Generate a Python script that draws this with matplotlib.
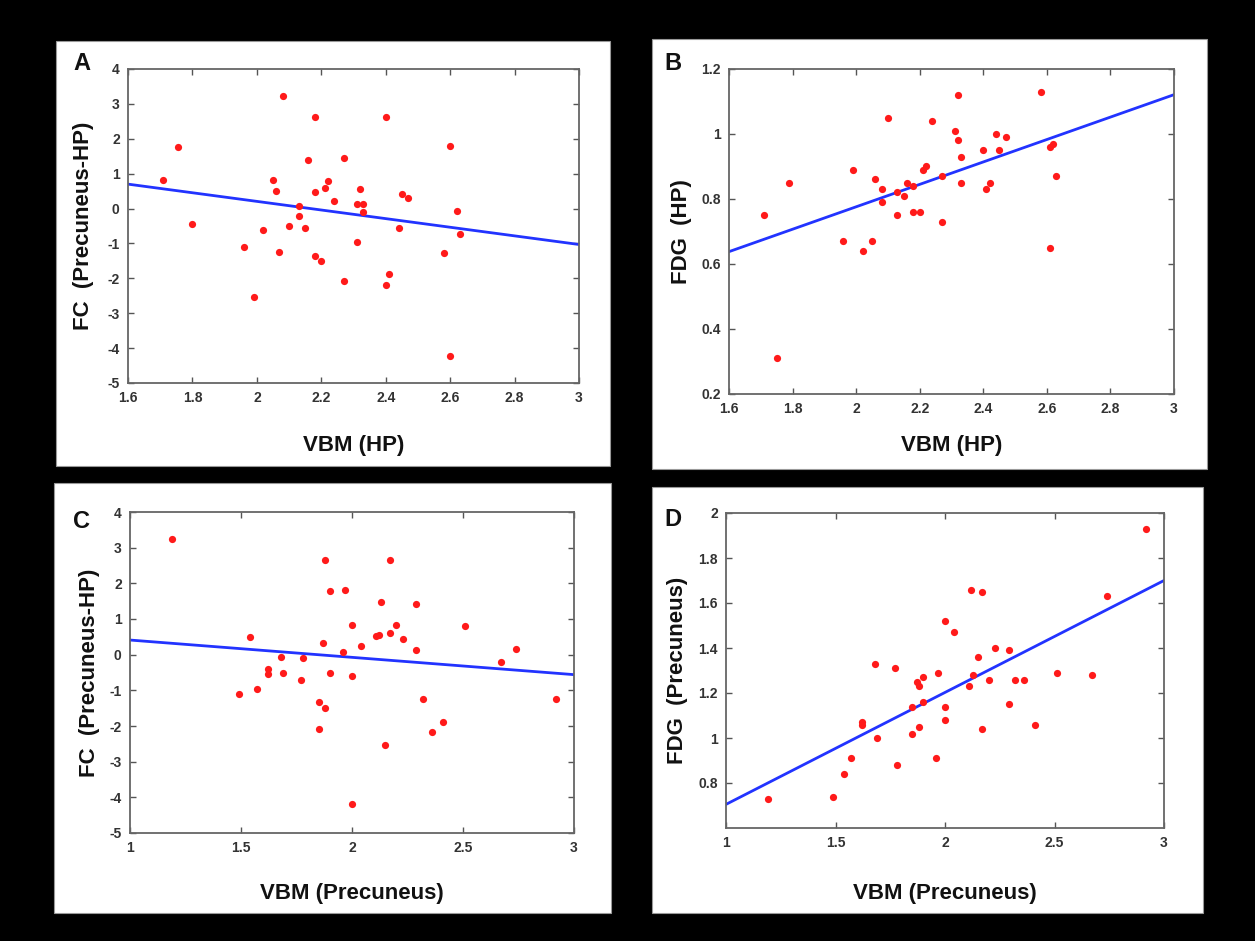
import numpy as np
import matplotlib
matplotlib.use('Agg')
import matplotlib.pyplot as plt
from matplotlib.patches import Rectangle

plt.rcParams['font.family'] = ['Liberation Sans', 'DejaVu Sans']

# Panel A: VBM (HP) vs FC (Precuneus-HP)
a_x = [1.71, 1.755, 1.80, 1.96, 1.99, 2.02, 2.05, 2.06, 2.07, 2.08, 2.10, 2.13, 2.13, 2.15,
       2.16, 2.18, 2.18, 2.18, 2.20, 2.21, 2.22, 2.24, 2.27, 2.27, 2.31, 2.31, 2.32, 2.33,
       2.33, 2.40, 2.40, 2.41, 2.44, 2.45, 2.47, 2.58, 2.60, 2.60, 2.62, 2.63]
a_y = [0.81, 1.77, -0.43, -1.10, -2.54, -0.62, 0.83, 0.50, -1.24, 3.23, -0.50, 0.07, -0.21, -0.55,
       1.40, -1.35, 0.47, 2.63, -1.50, 0.60, 0.80, 0.22, -2.08, 1.45, 0.13, -0.95, 0.55, 0.12,
       -0.10, -2.18, 2.63, -1.89, -0.55, 0.42, 0.31, -1.27, 1.78, -4.23, -0.07, -0.73]
a_fit_x = [1.6, 3.0]
a_fit_y = [0.70, -1.03]

# Panel B: VBM (HP) vs FDG (HP)
b_x = [1.71, 1.75, 1.79, 1.96, 1.99, 2.02, 2.05, 2.06, 2.08, 2.08, 2.10, 2.13, 2.13, 2.15,
       2.16, 2.18, 2.18, 2.20, 2.21, 2.22, 2.24, 2.27, 2.27, 2.31, 2.32, 2.32, 2.33, 2.33,
       2.40, 2.41, 2.42, 2.44, 2.45, 2.47, 2.58, 2.61, 2.61, 2.62, 2.63]
b_y = [0.75, 0.31, 0.85, 0.67, 0.89, 0.64, 0.67, 0.86, 0.79, 0.83, 1.05, 0.75, 0.82, 0.81,
       0.85, 0.84, 0.76, 0.76, 0.89, 0.90, 1.04, 0.87, 0.73, 1.01, 0.98, 1.12, 0.85, 0.93,
       0.95, 0.83, 0.85, 1.00, 0.95, 0.99, 1.13, 0.96, 0.65, 0.97, 0.87]
b_fit_x = [1.6, 3.0]
b_fit_y = [0.638, 1.121]

# Panel C: VBM (Precuneus) vs FC (Precuneus-HP)
c_x = [1.19, 1.49, 1.54, 1.57, 1.62, 1.62, 1.68, 1.69, 1.77, 1.78, 1.85, 1.85, 1.87, 1.88,
       1.88, 1.90, 1.90, 1.96, 1.97, 2.00, 2.00, 2.00, 2.04, 2.11, 2.12, 2.13, 2.15, 2.17,
       2.17, 2.20, 2.23, 2.29, 2.29, 2.32, 2.36, 2.41, 2.51, 2.67, 2.74, 2.92]
c_y = [3.24, -1.10, 0.50, -0.95, -0.40, -0.53, -0.06, -0.52, -0.71, -0.08, -2.08, -1.33, 0.33, -1.49,
       2.65, 1.79, -0.50, 0.07, 1.81, 0.83, -0.60, -4.20, 0.25, 0.51, 0.55, 1.47, -2.53, 0.60,
       2.65, 0.82, 0.43, 0.12, 1.42, -1.23, -2.16, -1.89, 0.81, -0.20, 0.15, -1.25]
c_fit_x = [1.0, 3.0]
c_fit_y = [0.41, -0.56]

# Panel D: VBM (Precuneus) vs FDG (Precuneus)
d_x = [1.19, 1.49, 1.54, 1.57, 1.62, 1.62, 1.68, 1.69, 1.77, 1.78, 1.85, 1.85, 1.87, 1.88,
       1.88, 1.90, 1.90, 1.96, 1.97, 2.00, 2.00, 2.00, 2.04, 2.11, 2.12, 2.13, 2.15, 2.17,
       2.17, 2.20, 2.23, 2.29, 2.29, 2.32, 2.36, 2.41, 2.51, 2.67, 2.74, 2.92]
d_y = [0.73, 0.74, 0.84, 0.91, 1.07, 1.06, 1.33, 1.00, 1.31, 0.88, 1.14, 1.02, 1.25, 1.23,
       1.05, 1.27, 1.16, 0.91, 1.29, 1.52, 1.14, 1.08, 1.47, 1.23, 1.66, 1.28, 1.36, 1.65,
       1.04, 1.26, 1.40, 1.15, 1.39, 1.26, 1.26, 1.06, 1.29, 1.28, 1.63, 1.93]
d_fit_x = [1.0, 3.0]
d_fit_y = [0.705, 1.70]

W, H = 1255, 941


def fig_rect(x0, y0, x1, y1):
    # pixel box (top-left origin) -> figure fraction [left, bottom, width, height]
    return [x0 / W, 1 - y1 / H, (x1 - x0) / W, (y1 - y0) / H]


fig = plt.figure(figsize=(W / 100, H / 100), dpi=100, facecolor='black')

panels = [
    dict(box=(56, 40.7, 610, 466), ax=(128, 69, 579, 383), x=a_x, y=a_y, fx=a_fit_x, fy=a_fit_y,
         xlim=(1.6, 3), xt=[1.6, 1.8, 2, 2.2, 2.4, 2.6, 2.8, 3], ylim=(-5, 4), yt=range(-5, 5),
         xlabel='VBM (HP)', ylabel='FC  (Precuneus-HP)', letter='A', lp=(82, 63),
         r='r = - 0.173', p='p =  0.298', tp=(457, 320), xl=445, yl=84),
    dict(box=(652, 39, 1207, 469), ax=(729, 69, 1174, 394), x=b_x, y=b_y, fx=b_fit_x, fy=b_fit_y,
         xlim=(1.6, 3), xt=[1.6, 1.8, 2, 2.2, 2.4, 2.6, 2.8, 3], ylim=(0.2, 1.2),
         yt=[0.2, 0.4, 0.6, 0.8, 1, 1.2],
         xlabel='VBM (HP)', ylabel='FDG  (HP)', letter='B', lp=(673, 63),
         r='r = 0.515', p='p =  0.000*', tp=(1054, 330), xl=445, yl=681),
    dict(box=(54, 483, 611, 913), ax=(130, 512, 574, 833), x=c_x, y=c_y, fx=c_fit_x, fy=c_fit_y,
         xlim=(1, 3), xt=[1, 1.5, 2, 2.5, 3], ylim=(-5, 4), yt=range(-5, 5),
         xlabel='VBM (Precuneus)', ylabel='FC  (Precuneus-HP)', letter='C', lp=(81, 522),
         r='r = - 0.122', p='p =  0.463', tp=(457, 778), xl=893, yl=90),
    dict(box=(652, 487, 1203, 913), ax=(726, 513, 1164, 828), x=d_x, y=d_y, fx=d_fit_x, fy=d_fit_y,
         xlim=(1, 3), xt=[1, 1.5, 2, 2.5, 3], ylim=(0.6, 2),
         yt=[0.8, 1, 1.2, 1.4, 1.6, 1.8, 2],
         xlabel='VBM (Precuneus)', ylabel='FDG  (Precuneus)', letter='D', lp=(673, 520),
         r='r = 0.713', p='p =  0.000*', tp=(1049, 778), xl=893, yl=677),
]

for pn in panels:
    bx = fig_rect(*pn['box'])
    fig.patches.append(Rectangle((bx[0], bx[1]), bx[2], bx[3], transform=fig.transFigure,
                                 facecolor='white', edgecolor='#999999', lw=0.8, zorder=-10))

for pn in panels:
    ax = fig.add_axes(fig_rect(*pn['ax']))
    ax.set_zorder(5)
    ax.set_facecolor('white')
    ax.plot(pn['fx'], pn['fy'], color='#2233ff', lw=2.0, zorder=2)
    ax.plot(pn['x'], pn['y'], 'o', color='#ff1a1a', ms=5.2, mec='none', zorder=3)
    ax.set_xlim(*pn['xlim'])
    ax.set_ylim(*pn['ylim'])
    ax.set_xticks(pn['xt'])
    ax.set_xticklabels(['%g' % v for v in pn['xt']])
    ax.set_yticks(list(pn['yt']))
    ax.set_yticklabels(['%g' % v for v in pn['yt']])
    ax.tick_params(direction='in', length=4, width=1.0, color='#555555', top=True, right=True,
                   labelsize=10, labelcolor='#333333', pad=6)
    for lab in ax.get_xticklabels() + ax.get_yticklabels():
        lab.set_fontweight('bold')
    for s in ax.spines.values():
        s.set_color('#666666')
        s.set_linewidth(1.3)

    x0, y0, x1, y1 = pn['ax']
    fig.text(((x0 + x1) / 2) / W, 1 - pn['xl'] / H, pn['xlabel'], ha='center', va='center',
             fontsize=16, fontweight='bold', color='#111111')
    fig.text(pn['yl'] / W, 1 - ((y0 + y1) / 2) / H, pn['ylabel'], ha='center', va='center',
             rotation=90, fontsize=16, fontweight='bold', color='#111111')
    fig.text(pn['lp'][0] / W, 1 - pn['lp'][1] / H, pn['letter'], ha='center', va='center',
             fontsize=17, fontweight='bold', color='#111111')
    fig.text(pn['tp'][0] / W, 1 - pn['tp'][1] / H, pn['r'], ha='left', va='center',
             fontsize=15, fontweight='bold', color='#111111')
    fig.text(pn['tp'][0] / W, 1 - (pn['tp'][1] + 25) / H, pn['p'], ha='left', va='center',
             fontsize=15, fontweight='bold', color='#111111')

fig.savefig('out.png', dpi=100, facecolor='black')
